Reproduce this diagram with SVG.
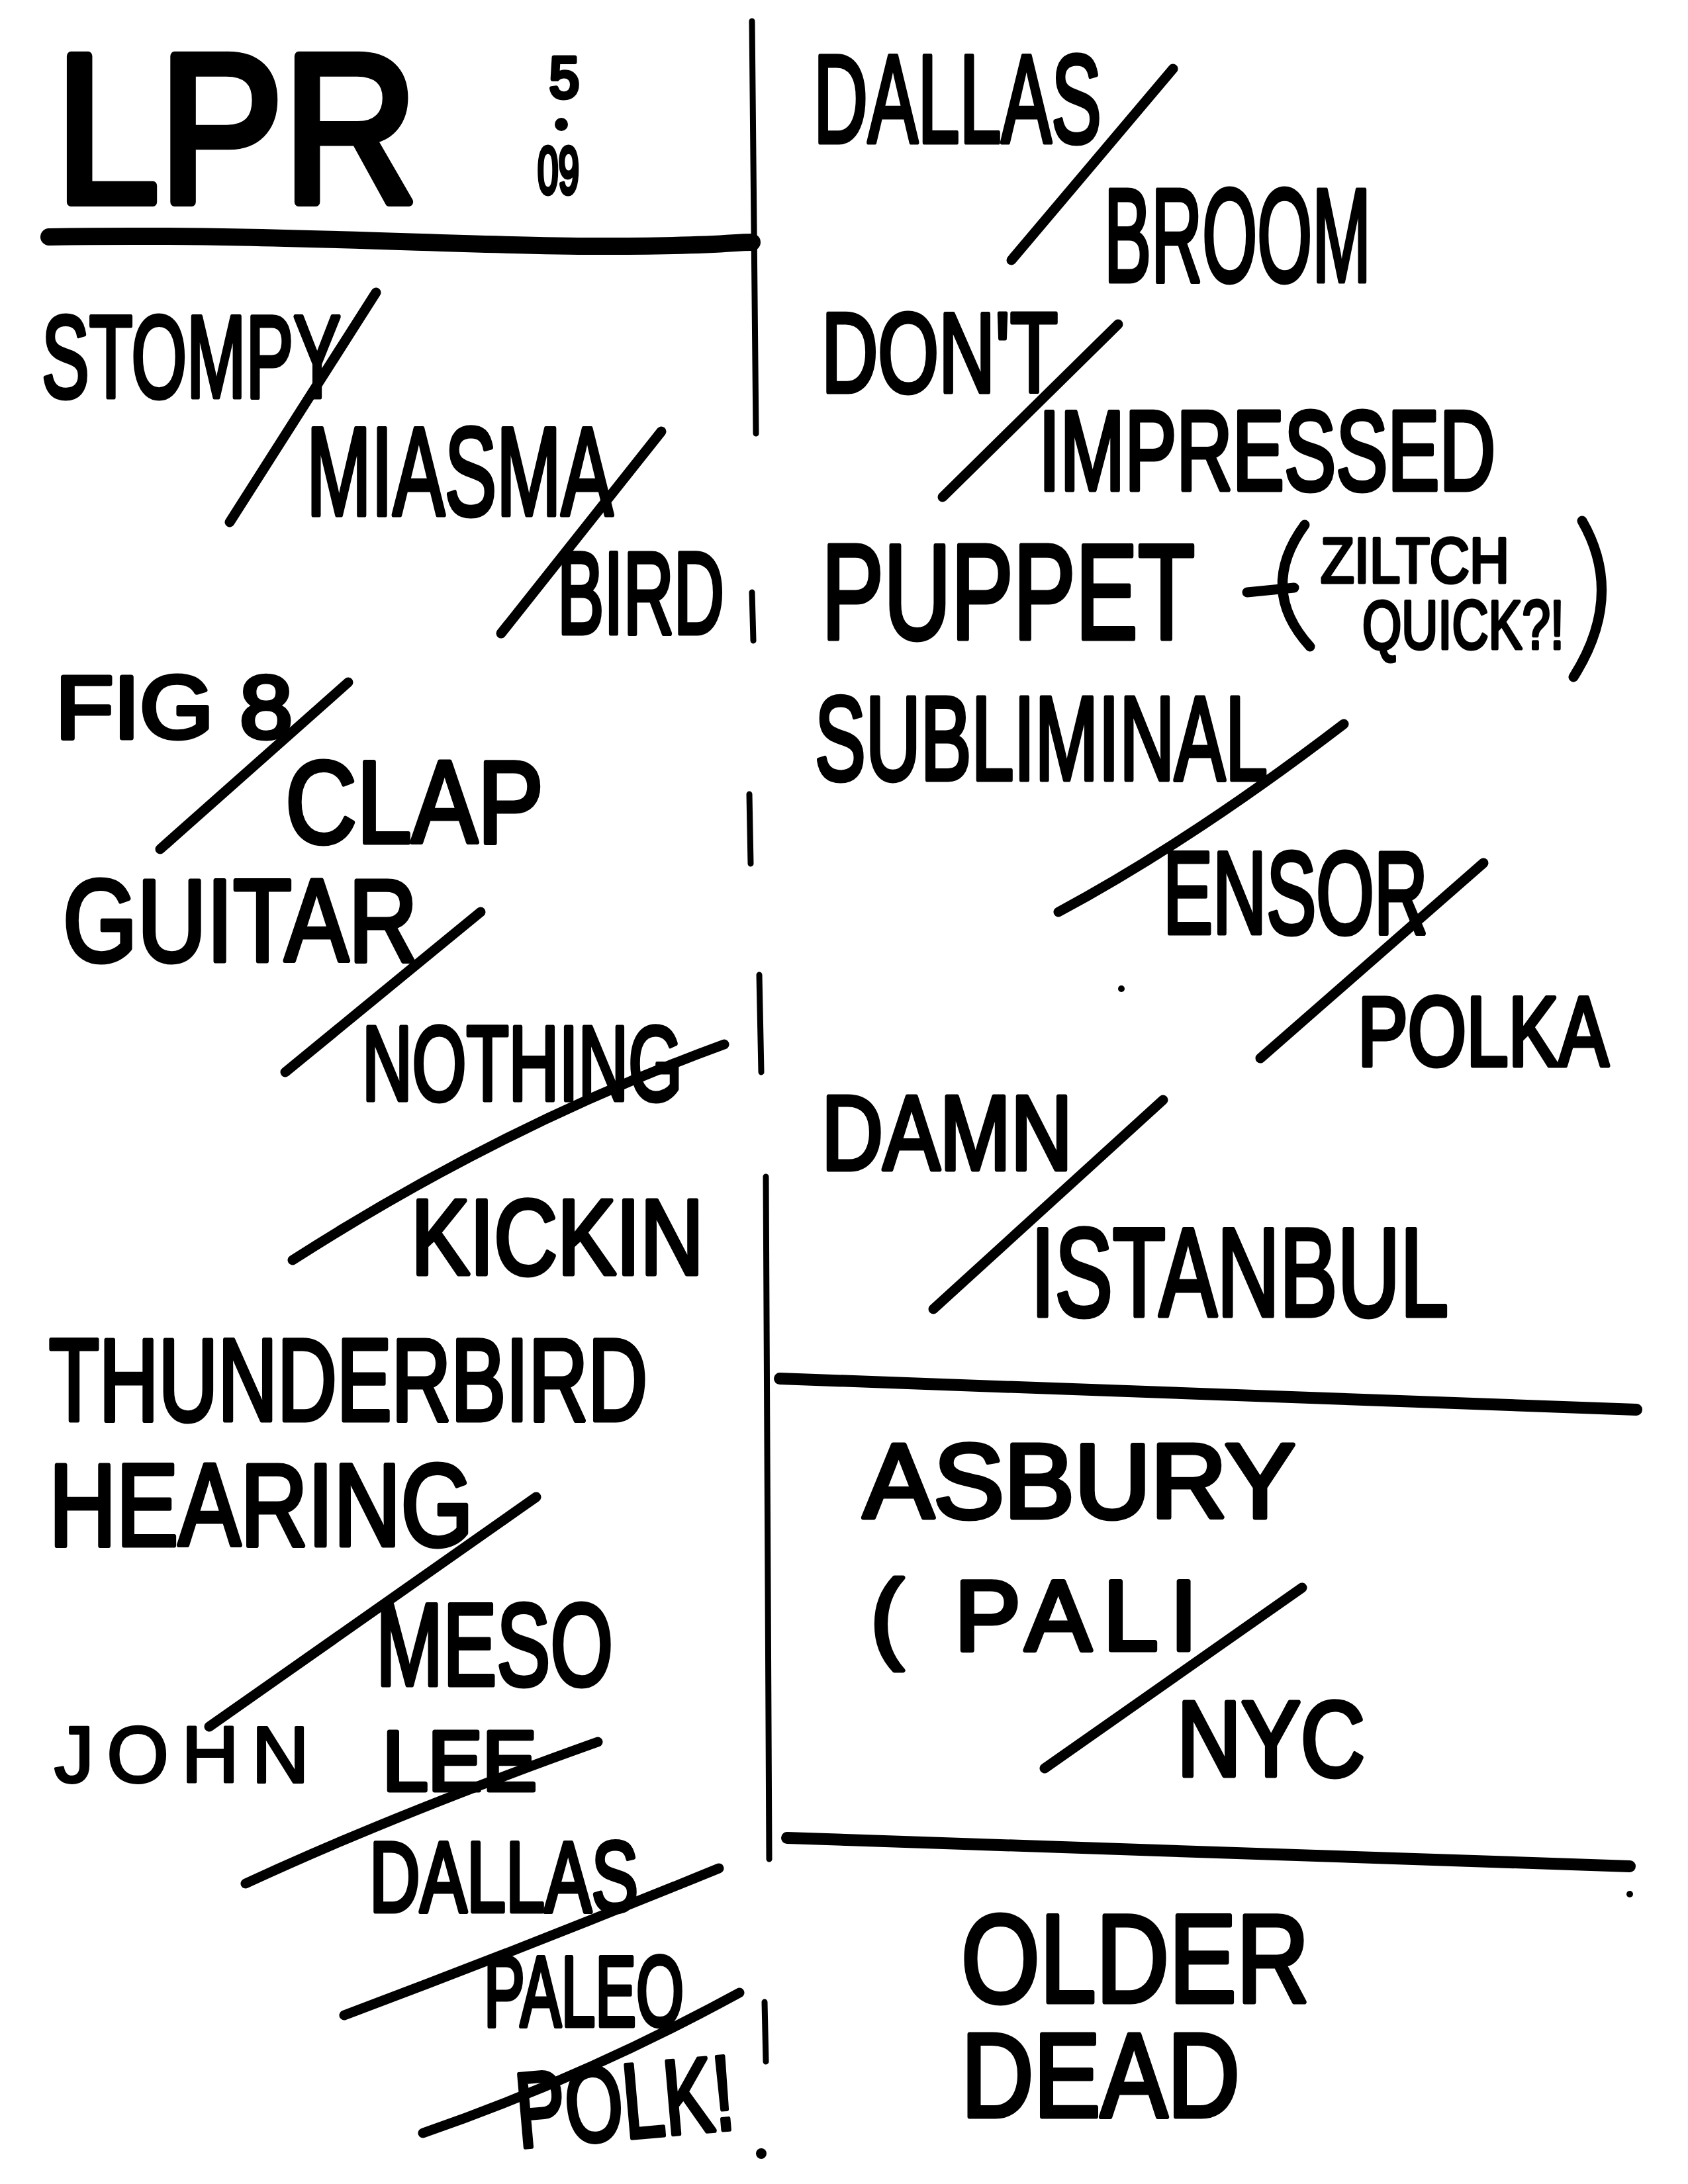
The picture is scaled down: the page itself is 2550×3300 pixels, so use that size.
<svg xmlns="http://www.w3.org/2000/svg" width="2550" height="3300" viewBox="0 0 2550 3300">
<style>
.t{font-family:"Liberation Sans",Arial,sans-serif;fill:#000;stroke:#000;stroke-width:7;stroke-linejoin:round}
.s{stroke:#000;stroke-width:15;stroke-linecap:round;fill:none}
.r{stroke:#000;stroke-width:18;stroke-linecap:round;fill:none}
</style>
<rect width="2550" height="3300" fill="#fff"/>
<g id="header">
<text class="t" x="84" y="305" font-size="320" textLength="547" lengthAdjust="spacingAndGlyphs" style="stroke-width:14">LPR</text>
<text class="t" x="830" y="147" font-size="88" textLength="45" lengthAdjust="spacingAndGlyphs">5</text>
<circle cx="848" cy="188" r="10"/>
<text class="t" x="812" y="292" font-size="100" textLength="63" lengthAdjust="spacingAndGlyphs">09</text>
</g>
<g id="rules">
<path class="s" style="stroke-width:26" d="M74,358 C400,352 700,372 900,372 S1100,366 1136,366"/>
<path class="r" d="M1178,2083 L2472,2130"/>
<path class="r" d="M1189,2777 L2462,2820"/>
<path class="s" style="stroke-width:9" d="M1136,32 L1142,655"/>
<path class="s" style="stroke-width:9" d="M1136,895 L1138,968"/>
<path class="s" style="stroke-width:9" d="M1132,1200 L1134,1305"/>
<path class="s" style="stroke-width:9" d="M1147,1473 L1150,1620"/>
<path class="s" style="stroke-width:9" d="M1157,1778 L1162,2809"/>
<path class="s" style="stroke-width:9" d="M1155,3025 L1157,3115"/>
<circle cx="1150" cy="3254" r="8"/>
<circle cx="1694" cy="1494" r="5"/>
<circle cx="2462" cy="2862" r="5"/>
</g>
<g id="connectors">
<path class="s" d="M568,442 L347,789"/>
<path class="s" d="M999,652 L757,957"/>
<path class="s" d="M526,1031 L242,1283"/>
<path class="s" d="M726,1378 L431,1620"/>
<path class="s" d="M1094,1578 Q760,1700 442,1904"/>
<path class="s" d="M810,2262 L316,2609"/>
<path class="s" d="M903,2632 Q600,2740 371,2846"/>
<path class="s" d="M1086,2823 Q800,2940 520,3045"/>
<path class="s" d="M1117,3011 Q880,3140 639,3223"/>
<path class="s" d="M1772,104 L1528,393"/>
<path class="s" d="M1689,490 L1424,751"/>
<path class="s" d="M2030,1094 Q1800,1270 1599,1378"/>
<path class="s" d="M2241,1304 L1904,1599"/>
<path class="s" d="M1757,1662 L1410,1978"/>
<path class="s" d="M1967,2399 L1578,2672"/>
<path class="s" d="M1884,895 L1955,888"/>
<path class="s" d="M1971,793 Q1900,890 1979,977"/>
<path class="s" d="M2390,787 Q2455,900 2377,1023"/>
</g>
<g id="left">
<text class="t" x="63" y="600" font-size="177" textLength="452" lengthAdjust="spacingAndGlyphs">STOMPY</text>
<text class="t" x="463" y="778" font-size="190" textLength="463" lengthAdjust="spacingAndGlyphs">MIASMA</text>
<text class="t" x="842" y="957" font-size="176" textLength="252" lengthAdjust="spacingAndGlyphs">BIRD</text>
<text class="t" x="84" y="1115" font-size="133" textLength="358" lengthAdjust="spacingAndGlyphs">FIG 8</text>
<text class="t" x="431" y="1273" font-size="176" textLength="390" lengthAdjust="spacingAndGlyphs">CLAP</text>
<text class="t" x="95" y="1452" font-size="177" textLength="536" lengthAdjust="spacingAndGlyphs">GUITAR</text>
<text class="t" x="547" y="1662" font-size="160" textLength="484" lengthAdjust="spacingAndGlyphs">NOTHING</text>
<text class="t" x="621" y="1925" font-size="162" textLength="442" lengthAdjust="spacingAndGlyphs">KICKIN</text>
<text class="t" x="74" y="2146" font-size="176" textLength="904" lengthAdjust="spacingAndGlyphs">THUNDERBIRD</text>
<text class="t" x="74" y="2335" font-size="176" textLength="641" lengthAdjust="spacingAndGlyphs">HEARING</text>
<text class="t" x="568" y="2546" font-size="176" textLength="358" lengthAdjust="spacingAndGlyphs">MESO</text>
<text class="t" x="82" y="2693" font-size="120" textLength="385" lengthAdjust="spacing" style="stroke-width:4">JOHN</text>
<text class="t" x="578" y="2705" font-size="128" textLength="233" lengthAdjust="spacingAndGlyphs">LEE</text>
<text class="t" x="558" y="2888" font-size="150" textLength="406" lengthAdjust="spacingAndGlyphs">DALLAS</text>
<text class="t" x="731" y="3061" font-size="150" textLength="302" lengthAdjust="spacingAndGlyphs">PALEO</text>
<text class="t" x="784" y="3245" font-size="160" textLength="330" lengthAdjust="spacingAndGlyphs" transform="rotate(-5 784 3245)">POLK!</text>
</g>
<g id="right">
<text class="t" x="1229" y="215" font-size="190" textLength="435" lengthAdjust="spacingAndGlyphs">DALLAS</text>
<text class="t" x="1668" y="425" font-size="200" textLength="403" lengthAdjust="spacingAndGlyphs">BROOM</text>
<text class="t" x="1241" y="592" font-size="170" textLength="357" lengthAdjust="spacingAndGlyphs">DON'T</text>
<text class="t" x="1569" y="740" font-size="170" textLength="690" lengthAdjust="spacingAndGlyphs">IMPRESSED</text>
<text class="t" x="1241" y="965" font-size="205" textLength="564" lengthAdjust="spacingAndGlyphs">PUPPET</text>
<text class="t" x="1995" y="880" font-size="96" textLength="285" lengthAdjust="spacingAndGlyphs" style="stroke-width:5">ZILTCH</text>
<text class="t" x="2058" y="980" font-size="104" textLength="305" lengthAdjust="spacingAndGlyphs" style="stroke-width:5">QUICK?!</text>
<text class="t" x="1231" y="1178" font-size="180" textLength="684" lengthAdjust="spacingAndGlyphs">SUBLIMINAL</text>
<text class="t" x="1757" y="1410" font-size="177" textLength="400" lengthAdjust="spacingAndGlyphs">ENSOR</text>
<text class="t" x="2051" y="1610" font-size="148" textLength="379" lengthAdjust="spacingAndGlyphs">POLKA</text>
<text class="t" x="1241" y="1767" font-size="160" textLength="379" lengthAdjust="spacingAndGlyphs">DAMN</text>
<text class="t" x="1557" y="1988" font-size="190" textLength="631" lengthAdjust="spacingAndGlyphs">ISTANBUL</text>
<text class="t" x="1304" y="2293" font-size="160" textLength="653" lengthAdjust="spacing">ASBURY</text>
<text class="t" x="1315" y="2493" font-size="150" textLength="494" lengthAdjust="spacing">( PALI</text>
<text class="t" x="1778" y="2683" font-size="162" textLength="284" lengthAdjust="spacingAndGlyphs">NYC</text>
<text class="t" x="1452" y="3025" font-size="190" textLength="526" lengthAdjust="spacingAndGlyphs">OLDER</text>
<text class="t" x="1452" y="3198" font-size="180" textLength="421" lengthAdjust="spacingAndGlyphs">DEAD</text>
</g>
</svg>
